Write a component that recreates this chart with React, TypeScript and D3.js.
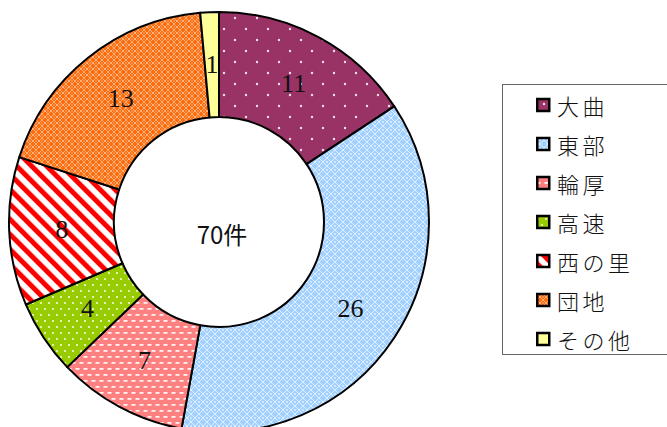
import React from "react";
import * as d3 from "d3";

const width = 667;
const height = 427;

// slices, clockwise from 12 o'clock
const categories = ["大曲", "東部", "輪厚", "高速", "西の里", "団地", "その他"];
const counts = [11, 26, 7, 4, 8, 13, 1];
const fills = ["url(#p-omagari)", "url(#p-tobu)", "url(#p-wattsu)", "url(#p-kosoku)", "url(#p-nishinosato)", "url(#p-danchi)", "#ffff99"];
const totalLabel = "70件";

const cx = 219;
const cy = 222;
const outerR = 210;
const innerR = 105;

const legend = { x: 502, y: 84, w: 165, h: 270, rowTop: 105, rowStep: 39, markerX: 536, textX: 557 };

function Patterns() {
  return (
    <defs>
      <pattern id="p-omagari" width={22} height={22} patternUnits="userSpaceOnUse">
        <rect width={22} height={22} fill="#993366" />
        <circle cx={5} cy={5} r={1.2} fill="#fff" opacity={0.85} />
        <circle cx={16} cy={16} r={1.2} fill="#fff" opacity={0.85} />
      </pattern>
      <pattern id="p-tobu" width={8} height={8} patternUnits="userSpaceOnUse">
        <rect width={8} height={8} fill="#a3d1ff" />
        <path d="M0,4 L4,0 L8,4 L4,8 Z" fill="none" stroke="#fff" strokeWidth={1} opacity={0.65} />
        <circle cx={4} cy={4} r={1} fill="#fff" opacity={0.6} />
      </pattern>
      <pattern id="p-wattsu" width={8} height={12} patternUnits="userSpaceOnUse">
        <rect width={8} height={12} fill="#ff8080" />
        <rect x={0.5} y={2} width={4} height={1.8} fill="#fff" opacity={0.9} />
        <rect x={4.5} y={8} width={4} height={1.8} fill="#fff" opacity={0.9} />
        <rect x={-3.5} y={8} width={4} height={1.8} fill="#fff" opacity={0.9} />
      </pattern>
      <pattern id="p-kosoku" width={8} height={12} patternUnits="userSpaceOnUse">
        <rect width={8} height={12} fill="#99cc00" />
        <circle cx={2} cy={3} r={1.1} fill="#fff" opacity={0.85} />
        <circle cx={6} cy={9} r={1.1} fill="#fff" opacity={0.85} />
      </pattern>
      <pattern id="p-nishinosato" width={10.6} height={10.6} patternUnits="userSpaceOnUse" patternTransform="rotate(-45)">
        <rect width={10.6} height={10.6} fill="#fff" />
        <rect width={5} height={10.6} fill="#ff0000" />
      </pattern>
      <pattern id="p-danchi" width={6} height={6} patternUnits="userSpaceOnUse">
        <rect width={6} height={6} fill="#ff6a0a" />
        <path d="M0,3 L3,0 L6,3 L3,6 Z" fill="none" stroke="#fff" strokeWidth={0.8} opacity={0.6} />
        <circle cx={3} cy={3} r={0.8} fill="#fff" opacity={0.5} />
      </pattern>
    </defs>
  );
}

export default function App() {
  const pie = d3.pie<number>().sort(null).value((d) => d);
  const arcs = pie(counts);
  const arc = d3.arc<d3.PieArcDatum<number>>().innerRadius(innerR).outerRadius(outerR);

  return (
    <svg width={width} height={height} style={{ position: "absolute", left: 0, top: 0, background: "#fff" }}>
      <Patterns />
      <g transform={`translate(${cx},${cy})`}>
        {arcs.map((a, i) => (
          <path key={categories[i]} d={arc(a) || ""} fill={fills[i]} stroke="#000" strokeWidth={2} strokeLinejoin="round" />
        ))}
        {arcs.map((a, i) => {
          const [x, y] = arc.centroid(a);
          return (
            <text
              key={"l" + i}
              x={x}
              y={y}
              textAnchor="middle"
              dominantBaseline="central"
              fontFamily="'Liberation Serif', 'DejaVu Serif', serif"
              fontSize={26}
              fill="#111"
            >
              {a.data}
            </text>
          );
        })}
        <text
          x={3}
          y={11}
          textAnchor="middle"
          dominantBaseline="central"
          fontFamily="'Noto Sans CJK JP', 'Noto Sans', sans-serif"
          fontSize={24}
          fill="#111"
        >
          {totalLabel}
        </text>
      </g>
      <rect x={legend.x + 0.5} y={legend.y + 0.5} width={legend.w} height={legend.h} fill="#fff" stroke="#666" strokeWidth={1} />
      {categories.map((c, i) => {
        const y = legend.rowTop + i * legend.rowStep;
        return (
          <g key={"lg" + c}>
            <rect x={legend.markerX + 1.25} y={y - 6} width={12} height={12} fill={fills[i]} stroke="#000" strokeWidth={2.5} />
            <text
              x={legend.textX}
              y={y}
              dominantBaseline="central"
              fontFamily="'Noto Sans CJK JP', sans-serif"
              fontWeight={300}
              fontSize={22}
              letterSpacing={3.5}
              fill="#111"
            >
              {c}
            </text>
          </g>
        );
      })}
    </svg>
  );
}
